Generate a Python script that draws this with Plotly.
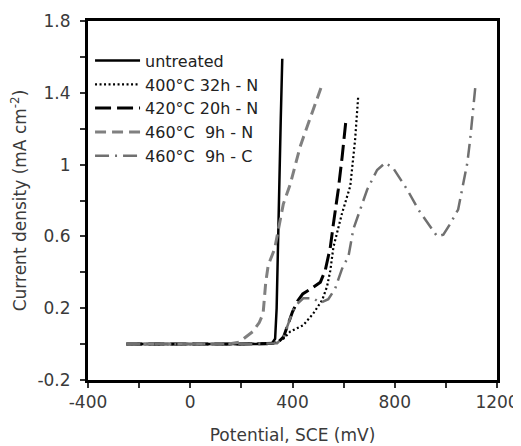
import plotly.graph_objects as go

# ---- data ----
untreated_x = [-250, 0, 200, 300, 320, 332, 338, 342, 348, 354, 360]
untreated_y = [0, 0, 0, 0, 0.005, 0.03, 0.2, 0.5, 0.91, 1.25, 1.59]

n400_x = [-250, 0, 200, 330, 365, 391, 420, 442, 481, 516, 535, 548, 560, 594, 626, 645, 657]
n400_y = [0, 0, 0, 0.005, 0.03, 0.07, 0.09, 0.105, 0.17, 0.245, 0.32, 0.41, 0.54, 0.73, 0.88, 1.14, 1.38]

n420_x = [-250, 0, 200, 340, 365, 380, 400, 420, 440, 475, 509, 528, 548, 560, 579, 594, 610]
n420_y = [0, 0, 0, 0.005, 0.04, 0.1, 0.18, 0.24, 0.28, 0.31, 0.345, 0.41, 0.54, 0.67, 0.86, 1.04, 1.26]

n460_x = [-250, 0, 150, 190, 220, 245, 270, 285, 295, 305, 330, 350, 364, 391, 410, 430, 442, 470, 489, 512]
n460_y = [0, 0, 0, 0.01, 0.04, 0.07, 0.12, 0.17, 0.34, 0.44, 0.53, 0.69, 0.78, 0.89, 1.0, 1.10, 1.15, 1.26, 1.34, 1.43]

c460_x = [-250, 0, 200, 340, 365, 385, 403, 423, 442, 481, 509, 540, 567, 594, 619, 638, 665, 692, 731,
          763, 794, 849, 892, 939, 966, 990, 1017, 1048, 1064, 1084, 1095, 1115]
c460_y = [0, 0, 0, 0.005, 0.04, 0.12, 0.19, 0.23, 0.255, 0.255, 0.23, 0.25, 0.31, 0.42, 0.49, 0.64, 0.75, 0.86, 0.97,
          1.01, 0.98, 0.86, 0.75, 0.65, 0.60, 0.61, 0.67, 0.75, 0.86, 1.01, 1.14, 1.43]

names = ["untreated", "400°C 32h - N", "420°C 20h - N", "460°C  9h - N", "460°C  9h - C"]

x_tickvals = [-400, -200, 0, 200, 400, 600, 800, 1000, 1200]
x_ticktext = ["-400", "", "0", "", "400", "", "800", "", "1200"]
y_tickvals = [-0.2, 0.0, 0.2, 0.4, 0.6, 0.8, 1.0, 1.2, 1.4, 1.6, 1.8]
y_ticktext = ["-0.2", "", "0.2", "", "0.6", "", "1", "", "1.4", "", "1.8"]

series = [
    (untreated_x, untreated_y, names[0], "#000000", "solid", 2.5),
    (n400_x, n400_y, names[1], "#000000", "2px,2.5px", 2.2),
    (n420_x, n420_y, names[2], "#000000", "16px,6px", 3),
    (n460_x, n460_y, names[3], "#808080", "11px,6px", 3),
    (c460_x, c460_y, names[4], "#707070", "14px,6px,2px,6px", 2.5),
]

fig = go.Figure()
for i, (xs, ys, nm, col, dash, w) in enumerate(series):
    fig.add_trace(go.Scatter(x=xs, y=ys, name=nm, mode="lines",
                             line=dict(color=col, dash=dash, width=w),
                             legendgroup=f"g{i}"))

font_fam = "DejaVu Sans, sans-serif"
txt_col = "#3a3a3a"
# page body has an 8px margin, so the figure is offset by 8px
fig.update_layout(
    width=513, height=438,
    margin=dict(l=80, r=24, t=13, b=66),
    paper_bgcolor="white", plot_bgcolor="white",
    font=dict(family=font_fam, size=17, color=txt_col),
    showlegend=True,
    legend=dict(x=0.005, y=0.937, xanchor="left", yanchor="top",
                bgcolor="rgba(0,0,0,0)", borderwidth=0,
                font=dict(family=font_fam, size=16, color="#222222"),
                itemwidth=45, tracegroupgap=0, traceorder="grouped"),
)
fig.update_xaxes(
    range=[-400, 1200], tickvals=x_tickvals, ticktext=x_ticktext,
    ticks="outside", ticklen=5, tickwidth=2, tickcolor="#333333",
    showline=True, linecolor="#000000", linewidth=3, mirror=True,
    showgrid=False, zeroline=False, automargin=False,
    ticklabeloverflow="allow",
    tickfont=dict(family=font_fam, size=17, color=txt_col),
    title=dict(text="Potential, SCE (mV)", font=dict(family=font_fam, size=17, color=txt_col), standoff=18),
)
fig.update_yaxes(
    range=[-0.2, 1.8], tickvals=y_tickvals, ticktext=y_ticktext,
    ticks="outside", ticklen=5, tickwidth=2, tickcolor="#333333",
    showline=True, linecolor="#000000", linewidth=3, mirror=True,
    showgrid=False, zeroline=False, automargin=False,
    ticklabeloverflow="allow", ticklabelstandoff=6,
    tickfont=dict(family=font_fam, size=17, color=txt_col),
    title=dict(text="Current density (mA cm<sup>-2</sup>)", font=dict(family=font_fam, size=17, color=txt_col), standoff=12),
)

fig.write_html("out.html")
